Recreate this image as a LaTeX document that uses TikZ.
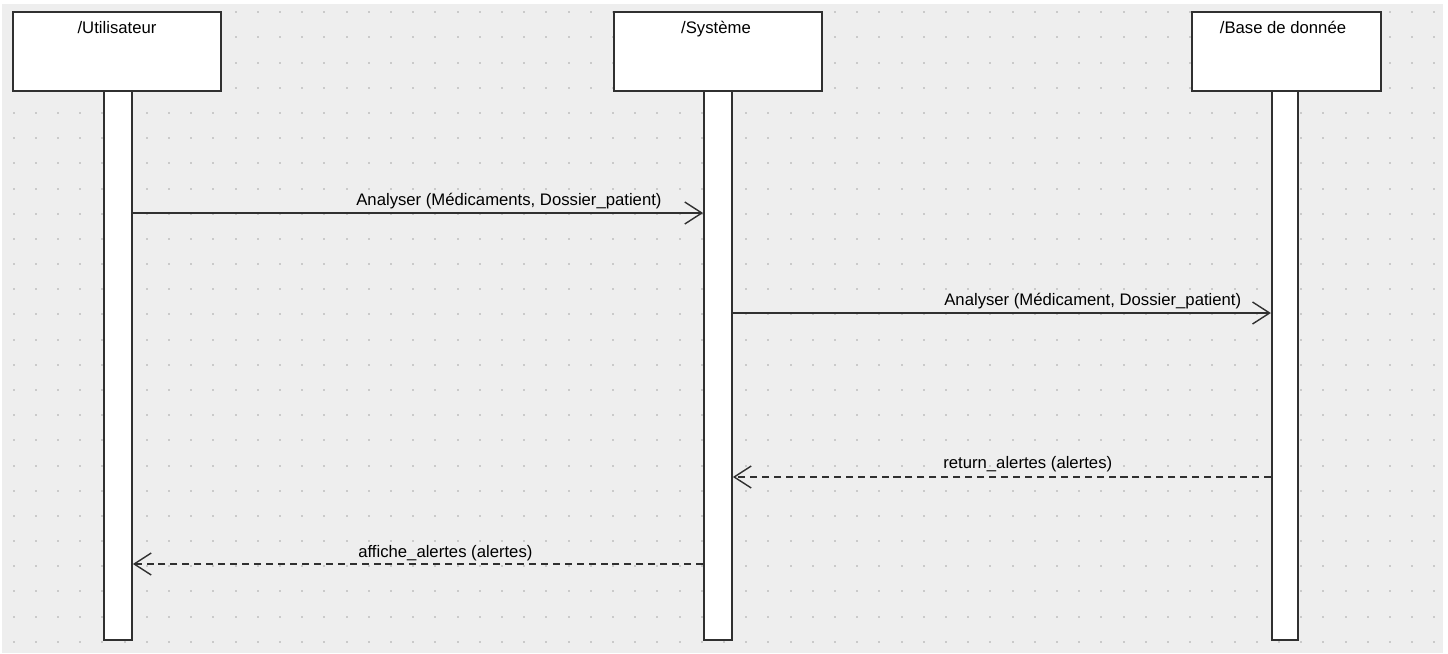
\documentclass[tikz,border=0pt]{standalone}
\usepackage{fontspec}
\setmainfont{Liberation Sans}
\usetikzlibrary{arrows.meta}
\definecolor{bgc}{HTML}{EEEEEE}
\definecolor{dotc}{HTML}{CACACA}
\definecolor{linec}{HTML}{303030}

\begin{document}
\begin{tikzpicture}[x=0.02cm, y=-0.02cm, font=\fontsize{9.5}{11}\selectfont, head/.style={draw=linec, fill=white, line width=1pt, minimum height=1.58cm, inner sep=0pt}, bar/.style={draw=linec, fill=white, line width=1pt, minimum height=10.98cm, inner sep=0pt}, title/.style={anchor=base, inner sep=0pt}, lbl/.style={anchor=base west, inner sep=0pt}, n/.style={-{Straight Barb[length=9.7pt, width=12.5pt]}, line width=0.8pt, draw=linec}, d/.style={n, dash pattern=on 4pt off 2.8pt}]
            % background
            \useasboundingbox (0,0) rectangle (1448,653);
            \fill[white] (0,0) rectangle (1448,653);
            \fill[bgc] (2,4) rectangle (1443,653);
            \foreach \i in {0,...,64}
                \foreach \j in {0,...,25}
                    \fill[dotc] (12.5+22.2*\i,11.3+25.18*\j) rectangle ++(2,2);

            % nodes
            \node[head, minimum width=4.16cm] (user) at (117,51.5) {};
            \node[head, minimum width=4.16cm] (sys) at (718,51.5) {};
            \node[head, minimum width=3.78cm] (db) at (1286.5,51.5) {};

            \node[title] (usert) at (117,33) {/Utilisateur};
            \node[title] (syst) at (716,33) {/Système};
            \node[title] (dbt) at (1283,33) {/Base de donnée};

            \node[bar, minimum width=0.56cm] (ubar) at (118,365.5) {};
            \node[bar, minimum width=0.56cm] (sbar) at (718,365.5) {};
            \node[bar, minimum width=0.53cm] (dbar) at (1285,365.5) {};

            \node[lbl] (m1t) at (356,205) {Analyser (Médicaments, Dossier\_patient)};
            \node[lbl] (m2t) at (944,305) {Analyser (Médicament, Dossier\_patient)};
            \node[lbl] (m3t) at (943,468) {return\_alertes (alertes)};
            \node[lbl] (m4t) at (358,557) {affiche\_alertes (alertes)};

            \coordinate (y1) at (0,213);
            \coordinate (y2) at (0,313);
            \coordinate (y3) at (0,477);
            \coordinate (y4) at (0,564);
            % edges
            \draw [n] (ubar.east |- y1) -- (sbar.west |- y1);
            \draw [n] (sbar.east |- y2) -- (dbar.west |- y2);
            \draw [d] (dbar.west |- y3) -- (sbar.east |- y3);
            \draw [d] (sbar.west |- y4) -- (ubar.east |- y4);
        \end{tikzpicture}
\end{document}
